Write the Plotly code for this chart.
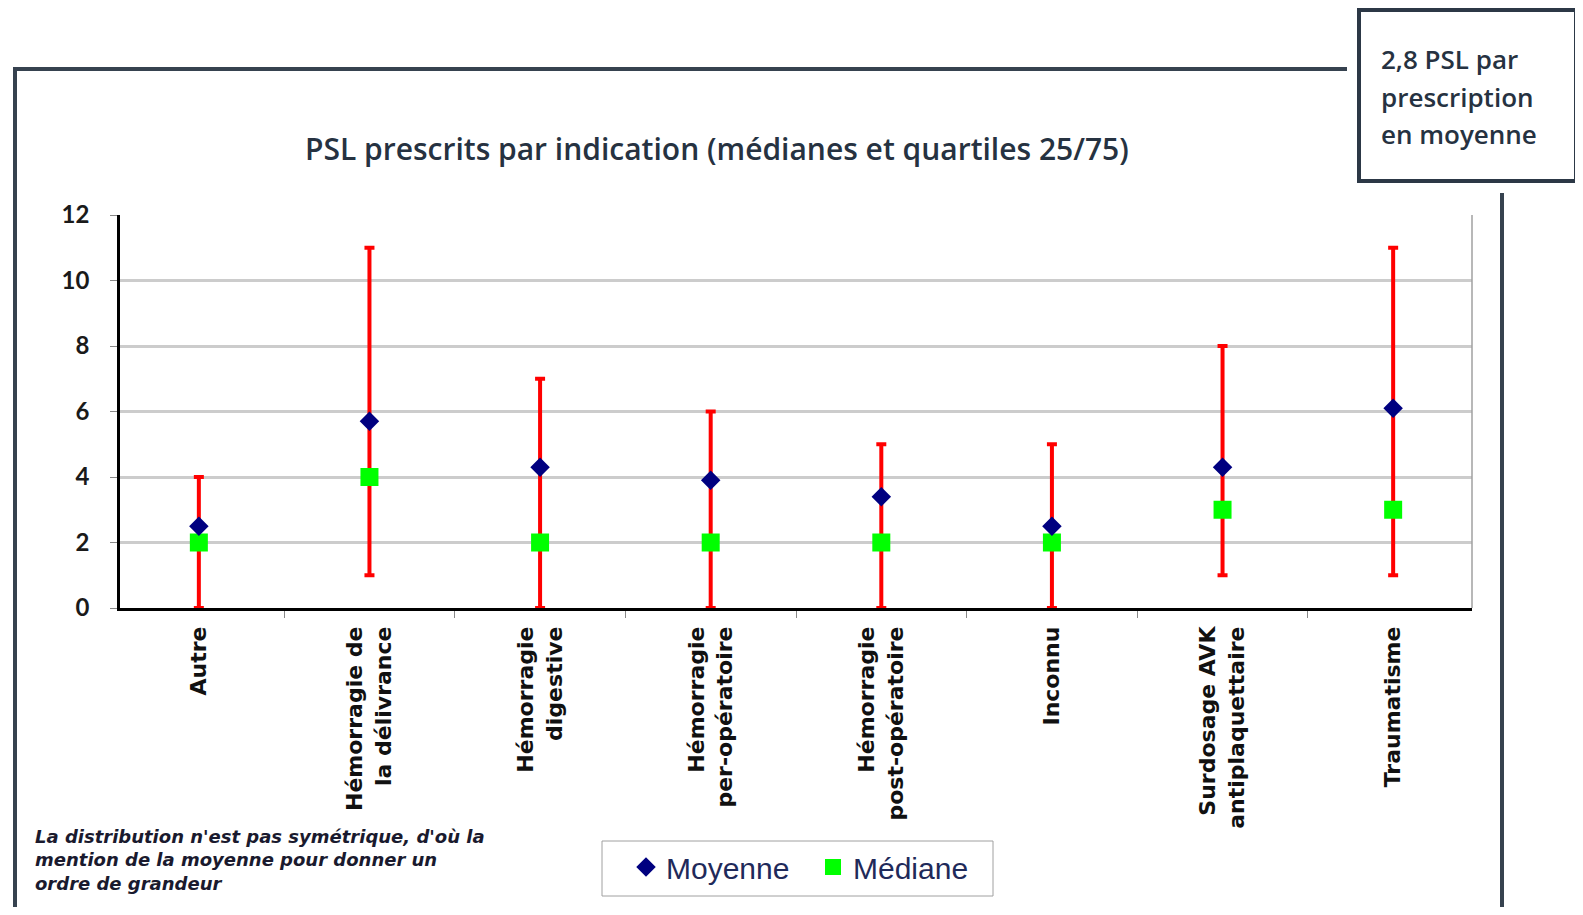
import plotly.graph_objects as go

categories = [
    "Autre",
    "Hémorragie de<br>la délivrance",
    "Hémorragie<br>digestive",
    "Hémorragie<br>per-opératoire",
    "Hémorragie<br>post-opératoire",
    "Inconnu",
    "Surdosage AVK<br>antiplaquettaire",
    "Traumatisme",
]
quartile_25 = [0, 1, 0, 0, 0, 0, 1, 1]
quartile_75 = [4, 11, 7, 6, 5, 5, 8, 11]
moyenne = [2.5, 5.7, 4.3, 3.9, 3.4, 2.5, 4.3, 6.1]
mediane = [2, 4, 2, 2, 2, 2, 3, 3]

note = [
    "La distribution n'est pas symétrique, d'où la",
    "mention de la moyenne pour donner un",
    "ordre de grandeur",
]
encadre = ["2,8 PSL par", "prescription", "en moyenne"]

# la page a une marge de 8px : la figure fait 1567x899
OFF = 8
W, H = 1583 - 2 * OFF, 915 - 2 * OFF
# zone de tracé (coordonnées page) : x 120..1472, y 215..608
L, T = 120 - OFF, 215 - OFF
R, B = W - (1472 - OFF), H - (608 - OFF)


def px(x):
    # pixel page -> paper x
    return (x - OFF - L) / (W - L - R)


def py(y):
    # pixel page -> paper y
    return (H - B - (y - OFF)) / (H - T - B)


dark = "#263241"

fig = go.Figure()

# barres interquartiles (25 -> 75)
fig.add_trace(go.Scatter(
    x=categories, y=quartile_25, mode="markers",
    marker=dict(size=1, color="rgba(0,0,0,0)"),
    error_y=dict(type="data", symmetric=False,
                 array=[h - l for h, l in zip(quartile_75, quartile_25)],
                 arrayminus=[0] * len(categories),
                 color="#ff0000", thickness=4, width=5),
    showlegend=False, hoverinfo="skip",
))
fig.add_trace(go.Scatter(
    x=categories, y=mediane, mode="markers", name="Médiane",
    marker=dict(symbol="square", size=18, color="#00ff00"),
))
fig.add_trace(go.Scatter(
    x=categories, y=moyenne, mode="markers", name="Moyenne",
    marker=dict(symbol="diamond", size=15, color="#000080"),
))

shapes = [
    # cadre extérieur
    dict(type="rect", xref="paper", yref="paper", layer="above",
         x0=px(15), x1=px(1502), y0=py(912), y1=py(69),
         line=dict(color="#36424f", width=4)),
    # bord droit de la zone de tracé
    dict(type="line", xref="paper", yref="paper",
         x0=1, x1=1, y0=0, y1=1, line=dict(color="#a0a0a0", width=1.5)),
    # fond blanc autour de l'encadré
    dict(type="rect", xref="paper", yref="paper", layer="above",
         x0=px(1347), x1=px(1590), y0=py(193), y1=py(-5),
         fillcolor="white", line=dict(width=0)),
    # encadré
    dict(type="rect", xref="paper", yref="paper", layer="above",
         x0=px(1359), x1=px(1576), y0=py(181), y1=py(10),
         fillcolor="white", line=dict(color="#2c3846", width=4)),
    # cadre de la légende
    dict(type="rect", xref="paper", yref="paper", layer="above",
         x0=px(602), x1=px(993), y0=py(896), y1=py(841),
         line=dict(color="#a0a0a0", width=1)),
]

annotations = [
    dict(text="PSL prescrits par indication (médianes et quartiles 25/75)",
         x=px(717), y=py(148), xref="paper", yref="paper",
         showarrow=False, xanchor="center", yanchor="middle",
         font=dict(family="Open Sans", size=30, color=dark, weight=600)),
    dict(text="<br>".join(note),
         x=px(33), y=py(860), xref="paper", yref="paper",
         showarrow=False, xanchor="left", yanchor="middle", align="left",
         font=dict(family="DejaVu Sans", size=18, color="#1a1a2e",
                   style="italic", weight="bold")),
]
for txt, yy in zip(encadre, [59, 97, 134]):
    annotations.append(dict(
        text=txt, x=px(1379), y=py(yy), xref="paper", yref="paper",
        showarrow=False, xanchor="left", yanchor="middle",
        font=dict(family="Open Sans", size=26, color=dark, weight=600)))

fig.update_layout(
    width=W, height=H,
    margin=dict(l=L, r=R, t=T, b=B),
    paper_bgcolor="white", plot_bgcolor="white",
    shapes=shapes, annotations=annotations,
    legend=dict(orientation="h", x=px(626), xanchor="left",
                y=py(841), yanchor="top",
                borderwidth=0, bgcolor="rgba(0,0,0,0)",
                traceorder="reversed", entrywidth=142,
                font=dict(family="Liberation Sans", size=30, color="#1f2a5a")),
)
fig.update_xaxes(
    showline=True, linecolor="black", linewidth=2.5,
    ticks="outside", tickson="boundaries", ticklen=7, tickcolor="#888888",
    tickangle=-90, showgrid=False, ticklabelstandoff=7,
    tickfont=dict(family="DejaVu Sans", size=22, color="#111111", weight="bold"),
)
fig.update_yaxes(
    range=[0, 12], dtick=2, showline=True, linecolor="black", linewidth=2.5,
    ticks="outside", ticklen=7, tickcolor="#888888", ticklabelstandoff=16,
    showgrid=True, gridcolor="#cccccc", gridwidth=2.5, zeroline=False,
    tickfont=dict(family="Lato", size=24, color="#1a1a1a", weight="bold"),
)

fig.write_html("out.html")
